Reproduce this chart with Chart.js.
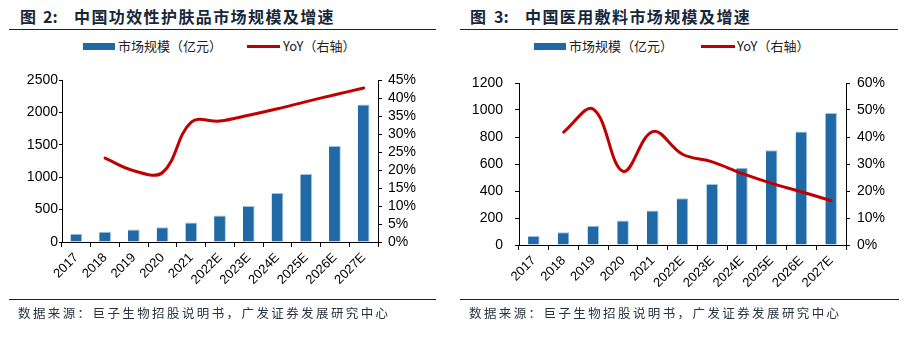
<!DOCTYPE html>
<html>
<head>
<meta charset="utf-8">
<script src="https://cdn.jsdelivr.net/npm/chart.js@4.4.0/dist/chart.umd.min.js"></script>
<style>
  html, body { margin:0; padding:0; background:#fff; }
  #page { position:relative; width:923px; height:343px; overflow:hidden; background:#fff; }
  .abs { position:absolute; white-space:nowrap; }
  .title { font-family:"Noto Sans CJK SC", sans-serif; font-weight:700; font-size:16px; color:#16273a; line-height:18px; }
  .rule { position:absolute; height:1px; background:#222; }
  .leg { font-family:"Noto Sans CJK SC", sans-serif; font-size:13px; color:#222; line-height:16px; }
  .src { font-family:"Noto Sans CJK SC", sans-serif; font-size:12.5px; color:#2a3440; letter-spacing:2.4px; line-height:16px; }
  canvas { position:absolute; }
</style>
</head>
<body>
<div id="page">
  <!-- Left panel -->
  <div class="abs title" style="left:20px;top:7px;">图</div>
  <div class="abs title" style="left:43px;top:7px;">2:</div>
  <div class="abs title" style="left:74px;top:7px;letter-spacing:1.4px;">中国功效性护肤品市场规模及增速</div>
  <div class="rule" style="left:9px;top:29px;width:427px;"></div>
  <div class="abs" style="left:83px;top:43px;width:32px;height:7px;background:#1f6aa6;"></div>
  <div class="abs leg" style="left:118px;top:38px;">市场规模（亿元）</div>
  <div class="abs" style="left:247px;top:45px;width:33px;height:3px;background:#c00000;"></div>
  <div class="abs leg" style="left:283px;top:38px;">YoY（右轴）</div>
  <canvas id="c1" style="left:0px;top:60px;"></canvas>
  <div class="rule" style="left:9px;top:299px;width:427px;"></div>
  <div class="abs src" style="left:18px;top:305px;">数据来源：巨子生物招股说明书，广发证券发展研究中心</div>

  <!-- Right panel -->
  <div class="abs title" style="left:470px;top:7px;">图</div>
  <div class="abs title" style="left:494px;top:7px;">3:</div>
  <div class="abs title" style="left:525px;top:7px;letter-spacing:1.4px;">中国医用敷料市场规模及增速</div>
  <div class="rule" style="left:460px;top:29px;width:438px;"></div>
  <div class="abs" style="left:534px;top:43px;width:32px;height:7px;background:#1f6aa6;"></div>
  <div class="abs leg" style="left:569px;top:38px;">市场规模（亿元）</div>
  <div class="abs" style="left:701px;top:45px;width:34px;height:3px;background:#c00000;"></div>
  <div class="abs leg" style="left:737px;top:38px;">YoY（右轴）</div>
  <canvas id="c2" style="left:460px;top:60px;"></canvas>
  <div class="rule" style="left:460px;top:299px;width:439px;"></div>
  <div class="abs src" style="left:469px;top:305px;">数据来源：巨子生物招股说明书，广发证券发展研究中心</div>
</div>
<script>
// ---- Data ----
const categories = ['2017','2018','2019','2020','2021','2022E','2023E','2024E','2025E','2026E','2027E'];

// Figure 2: functional skincare market (亿元) and YoY (%)
const skincareSize = [129, 160, 191, 228, 300, 409, 554, 756, 1051, 1480, 2122];
const skincareYoY  = [null, 23.3, 19.8, 19.3, 33.3, 33.6, 35.2, 37.0, 39.0, 40.9, 42.8];

// Figure 3: medical dressing market (亿元) and YoY (%)
const dressingSize = [66, 94, 143, 182, 256, 347, 451, 572, 702, 840, 978];
const dressingYoY  = [null, 41.8, 50.3, 27.3, 42.0, 33.6, 30.8, 26.5, 22.8, 19.7, 16.4];

// Axis ranges / steps
const skincareLeftAxis  = { min: 0, max: 2500, step: 500 };
const skincareRightAxis = { min: 0, max: 45, step: 5 };
const dressingLeftAxis  = { min: 0, max: 1200, step: 200 };
const dressingRightAxis = { min: 0, max: 60, step: 10 };

const seriesNames = ['市场规模（亿元）', 'YoY（右轴）'];

// ---- Styles ----
const BAR = '#1f6aa6';
const LINE = '#c00000';
const TICKFONT = { family: '"Liberation Sans", Arial, sans-serif', size: 14 };
const XFONT = { family: '"Liberation Sans", Arial, sans-serif', size: 13 };

function makeChart(id, w, h, size, yoy, la, ra, geo) {
  const cv = document.getElementById(id);
  cv.width = w; cv.height = h;
  cv.style.width = w + 'px'; cv.style.height = h + 'px';
  return new Chart(cv, {
    data: {
      labels: categories,
      datasets: [
        { type: 'line', label: seriesNames[1], data: yoy, yAxisID: 'y1',
          borderColor: LINE, borderWidth: 3, pointRadius: 0, tension: 0.38,
          fill: false, spanGaps: false, order: 0, borderCapStyle: 'round' },
        { type: 'bar', label: seriesNames[0], data: size, yAxisID: 'y',
          backgroundColor: BAR, borderColor: '#9cc3e4',
          borderWidth: { top: 1, right: 1, left: 0, bottom: 0 }, borderSkipped: 'bottom',
          barPercentage: geo.barPct, categoryPercentage: 1.0, order: 1 }
      ]
    },
    options: {
      responsive: false, animation: false, devicePixelRatio: 1,
      layout: { padding: { top: geo.padTop, left: 0, right: 0, bottom: 0 } },
      plugins: { legend: { display: false }, tooltip: { enabled: false } },
      scales: {
        x: {
          grid: { display: true, drawOnChartArea: false, offset: true, color: '#000', tickLength: 5, lineWidth: 1 },
          border: { display: true, color: '#000', width: 1 },
          ticks: { color: '#000', font: XFONT, maxRotation: 45, minRotation: 45, padding: 3, autoSkip: false },
          afterFit: s => { s.height = geo.xH; }
        },
        y: {
          position: 'left', min: la.min, max: la.max,
          grid: { drawOnChartArea: false, color: '#000', tickLength: geo.lTick },
          border: { display: true, color: '#000', width: 1 },
          ticks: { stepSize: la.step, color: '#000', font: TICKFONT, padding: geo.lPad,
                   autoSkip: false, callback: v => String(v) },
          afterFit: s => { s.width = geo.lW; }
        },
        y1: {
          position: 'right', min: ra.min, max: ra.max,
          grid: { drawOnChartArea: false, color: '#000', tickLength: geo.rTick },
          border: { display: true, color: '#000', width: 1 },
          ticks: { stepSize: ra.step, color: '#000', font: TICKFONT, padding: geo.rPad,
                   autoSkip: false, callback: v => v + '%' },
          afterFit: s => { s.width = geo.rW; }
        }
      }
    }
  });
}

makeChart('c1', 460, 240, skincareSize, skincareYoY, skincareLeftAxis, skincareRightAxis,
  { barPct: 0.41, padTop: 20, xH: 58, lW: 62, rW: 82, lTick: 3, lPad: 1, rTick: 4, rPad: 6 });
makeChart('c2', 463, 240, dressingSize, dressingYoY, dressingLeftAxis, dressingRightAxis,
  { barPct: 0.39, padTop: 23, xH: 55, lW: 59, rW: 77, lTick: 4, lPad: 12, rTick: 4, rPad: 7 });
</script>
</body>
</html>
